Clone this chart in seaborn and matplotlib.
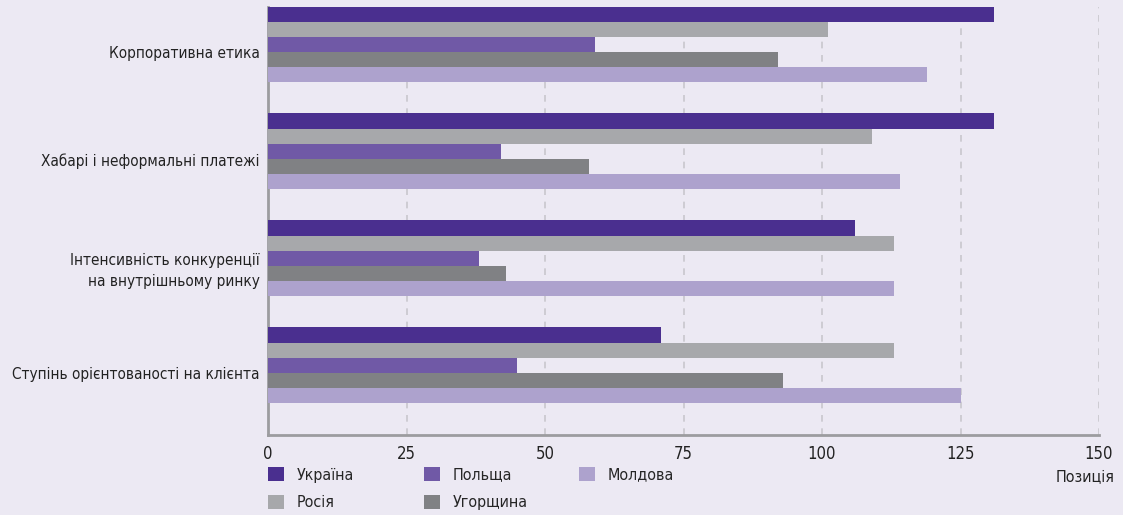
import matplotlib
matplotlib.use("Agg")
import matplotlib.pyplot as plt
from matplotlib import font_manager
from matplotlib.transforms import ScaledTranslation
import seaborn as sns
import pandas as pd

categories = ["Корпоративна етика", "Хабарі і неформальні платежі",
              "Інтенсивність конкуренції\nна внутрішньому ринку",
              "Ступінь орієнтованості на клієнта"]
countries = ["Україна", "Росія", "Польща", "Угорщина", "Молдова"]
ukraine = [131, 131, 106, 71]
russia = [101, 109, 113, 113]
poland = [59, 42, 38, 45]
hungary = [92, 58, 43, 93]
moldova = [119, 114, 113, 125]
colors = ["#4a2f8f", "#a7a8ab", "#7059a6", "#808184", "#ada2cd"]

rows = []
for name, vals in zip(countries, [ukraine, russia, poland, hungary, moldova]):
    for cat, v in zip(categories, vals):
        rows.append({"cat": cat, "country": name, "pos": v})
df = pd.DataFrame(rows)

# condensed face if there is one (DejaVu Sans Condensed usually is)
cond = [f for f in font_manager.fontManager.ttflist
        if f.stretch == "condensed" and f.weight in (400, "normal") and f.style == "normal"]
fam = cond[0].name if cond else "Liberation Sans"

sns.set_style("white")
bg = "#ece9f3"
plt.rcParams['font.family'] = [fam, 'DejaVu Sans']
if cond:
    plt.rcParams['font.stretch'] = 'condensed'

W, H = 1123, 515
fig = plt.figure(figsize=(W / 100, H / 100), dpi=100, facecolor=bg)
ax = fig.add_axes([268 / W, 1 - 435 / H, (1099 - 268) / W, (435 - 7) / H])
ax.set_facecolor(bg)

sns.barplot(data=df, y="cat", x="pos", hue="country", hue_order=countries,
            order=categories, palette=colors, orient="h", width=0.71,
            saturation=1, linewidth=0, ax=ax, zorder=3)

ax.set_xlim(0, 150)
ax.set_ylim(3.65, -0.35)
ax.set_xticks([0, 25, 50, 75, 100, 125, 150])
ax.grid(axis="x", color="#c8c7cd", linestyle=(0, (4, 4)), linewidth=1.2, zorder=0)
ax.set_axisbelow(True)
for s in ["top", "right"]:
    ax.spines[s].set_visible(False)
for s in ["left", "bottom"]:
    ax.spines[s].set_color("#9c9c9f")
    ax.spines[s].set_linewidth(2)
ax.tick_params(axis="both", length=0, colors="#222222")
ax.tick_params(axis="y", pad=6, labelsize=11)
ax.tick_params(axis="x", pad=7, labelsize=12)
ax.set_ylabel("")
ax.set_xlabel("")
# labels sit a little below the group centre in the original
shift = ScaledTranslation(0, -0.08, fig.dpi_scale_trans)
for lab in ax.get_yticklabels():
    lab.set_transform(lab.get_transform() + shift)
    lab.set_linespacing(1.5)

fig.text(1115 / W, 1 - 477 / H, "Позиція", ha="right", va="center",
         fontsize=11.5, color="#222222")

# legend: three columns placed by hand
handles, labels = ax.get_legend_handles_labels()
ax.get_legend().remove()
cols = [[0, 1], [2, 3], [4]]
xs = [268, 424, 579]
for idx, x in zip(cols, xs):
    leg = fig.legend([handles[i] for i in idx], [labels[i] for i in idx],
                     loc="upper left", bbox_to_anchor=(x / W, 1 - 467 / H),
                     frameon=False, fontsize=11.5, handlelength=1.0, handleheight=1.0,
                     handletextpad=0.8, labelspacing=0.75, borderaxespad=0, borderpad=0)

fig.savefig("out.png", dpi=100, facecolor=bg)
